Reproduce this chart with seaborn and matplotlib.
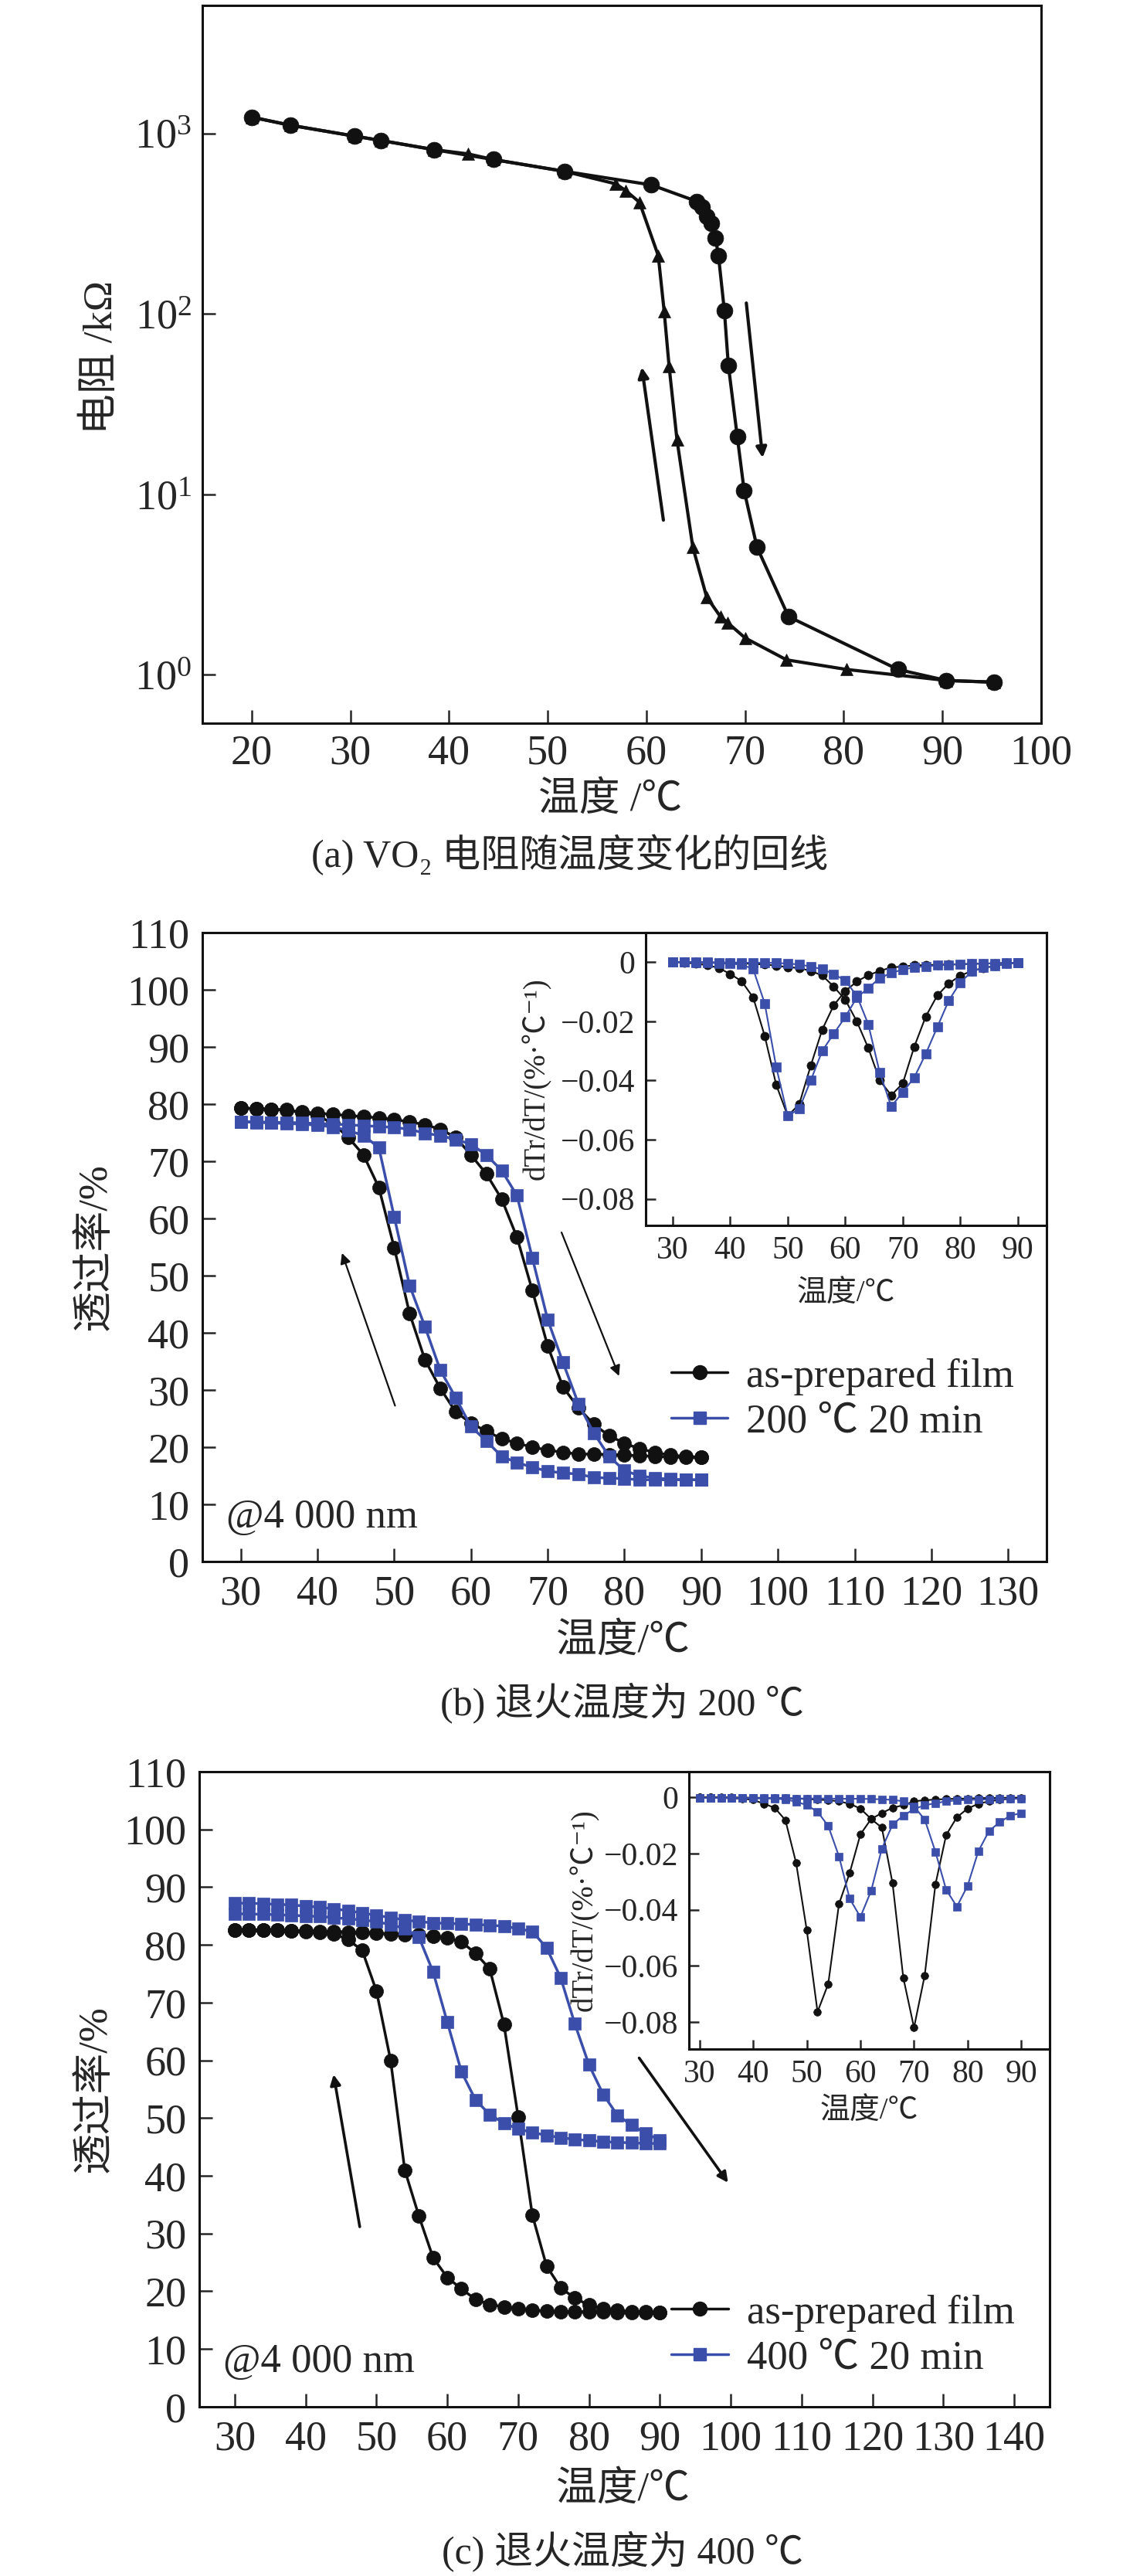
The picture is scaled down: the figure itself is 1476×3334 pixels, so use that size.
import matplotlib
matplotlib.use("Agg")
import matplotlib.pyplot as plt
import pandas as pd
import seaborn as sns
from matplotlib.lines import Line2D
from matplotlib.ticker import LogLocator, NullLocator

# ---------------- data ----------------
# (a) resistance loop
A_HEAT_T = [20, 23.9, 30.4, 33.1, 38.5, 44.5, 51.7, 60.5, 65.1, 65.6, 66.1, 66.6,
            67.0, 67.3, 67.9, 68.3, 69.2, 69.9, 71.2, 74.4, 85.5, 90.4, 95.2]
A_HEAT_R = [1230, 1110, 966, 913, 812, 716, 616, 518, 420, 392, 348, 318,
            263, 210, 104, 52, 21, 10.5, 5.1, 2.1, 1.07, 0.93, 0.91]
A_COOL_T = [95.2, 90.4, 80.3, 74.2, 70.0, 68.2, 67.5, 66.1, 64.7, 63.1, 62.3, 61.8,
            61.2, 59.3, 57.9, 56.9, 51.7, 44.5, 41.9, 38.5, 33.1, 30.4, 23.9, 20]
A_COOL_R = [0.91, 0.93, 1.07, 1.21, 1.6, 1.95, 2.1, 2.7, 5.1, 20, 51, 103,
            210, 415, 482, 525, 616, 716, 770, 812, 913, 966, 1110, 1230]

# temperature grid of the transmittance measurements
TEMPS = [30, 32, 34, 36, 38, 40, 42, 44, 46, 48, 50, 52, 54, 56, 58, 60,
         62, 64, 66, 68, 70, 72, 74, 76, 78, 80, 82, 84, 86, 88, 90]

# (b) annealed at 200 C
B_BLACK_HEAT = [79.3, 79.2, 79.1, 79.0, 78.6, 78.4, 78.2, 78.0, 77.8, 77.6, 77.3, 76.9,
                76.4, 75.6, 74.2, 71.1, 67.8, 63.4, 56.7, 47.4, 37.7, 30.5, 26.9, 24.0,
                22.0, 20.7, 19.7, 19.1, 18.6, 18.4, 18.2]
B_BLACK_COOL = [79.3, 79.2, 79.1, 78.9, 78.5, 78.0, 76.6, 74.2, 71.1, 65.4, 54.9, 43.4,
                35.3, 30.3, 26.2, 24.2, 22.8, 21.5, 20.7, 20.0, 19.5, 19.1, 18.8, 18.8,
                18.7, 18.6, 18.5, 18.4, 18.3, 18.2, 18.2]
B_BLUE_HEAT = [76.9, 76.9, 76.8, 76.8, 76.7, 76.6, 76.5, 76.4, 76.2, 76.1, 75.9, 75.6,
               74.9, 74.5, 73.8, 73.0, 71.1, 68.4, 64.0, 53.1, 42.3, 34.8, 27.6, 22.5,
               18.4, 15.9, 15.0, 14.6, 14.4, 14.3, 14.3]
B_BLUE_COOL = [76.9, 76.8, 76.7, 76.6, 76.5, 76.3, 76.0, 75.4, 74.5, 72.4, 60.3, 48.3,
               41.1, 33.5, 28.7, 23.6, 21.1, 18.4, 17.3, 16.5, 15.8, 15.5, 15.3, 14.7,
               14.6, 14.5, 14.3, 14.3, 14.3, 14.3, 14.3]

IB_BLACK_COOL = [0, -0.0001, -0.0006, -0.001, -0.002, -0.004, -0.0065, -0.012, -0.025,
                 -0.0415, -0.052, -0.048, -0.035, -0.0228, -0.0146, -0.0098, -0.0066,
                 -0.0044, -0.003, -0.0018, -0.0015, -0.0011, -0.001, -0.0009, -0.0008,
                 -0.0007, -0.0006, -0.0005, -0.0004, -0.0003, -0.0002]
IB_BLACK_HEAT = [0, 0, 0, -0.0001, -0.0002, -0.0003, -0.0004, -0.0006, -0.0008, -0.0012,
                 -0.0017, -0.002, -0.003, -0.0045, -0.0083, -0.0127, -0.02, -0.029, -0.04,
                 -0.045, -0.041, -0.0286, -0.0184, -0.0113, -0.0072, -0.0046, -0.003,
                 -0.002, -0.0013, -0.0006, -0.0002]
IB_BLUE_COOL = [0, 0, -0.0001, -0.0002, -0.0004, -0.0006, -0.0008, -0.0024, -0.014,
                -0.0355, -0.052, -0.0496, -0.04, -0.03, -0.0242, -0.0186, -0.012, -0.0088,
                -0.0054, -0.0037, -0.0025, -0.0018, -0.0014, -0.0011, -0.0009, -0.0007,
                -0.0006, -0.0005, -0.0004, -0.0003, -0.0002]
IB_BLUE_HEAT = [0, 0, 0, 0, -0.0001, -0.0001, -0.0002, -0.0002, -0.0002, -0.0003, -0.0005,
                -0.0008, -0.0015, -0.0024, -0.004, -0.0063, -0.0113, -0.021, -0.0374,
                -0.0488, -0.044, -0.039, -0.031, -0.022, -0.013, -0.0069, -0.0032,
                -0.0019, -0.0013, -0.0006, -0.0002]

# (c) annealed at 400 C
C_BLACK_HEAT = [82.6, 82.6, 82.5, 82.5, 82.4, 82.4, 82.3, 82.3, 82.2, 82.1, 82.0, 81.9,
                81.8, 81.7, 81.5, 81.2, 80.5, 78.5, 75.8, 66.2, 50.2, 33.2, 24.4, 20.6,
                18.8, 17.6, 17.0, 16.7, 16.5, 16.4, 16.3]
C_BLACK_COOL = [82.6, 82.6, 82.5, 82.5, 82.4, 82.3, 82.2, 81.9, 80.9, 79.0, 72.0, 60.0,
                41.0, 33.0, 25.8, 22.4, 20.4, 18.6, 17.7, 17.3, 17.0, 16.7, 16.6, 16.5,
                16.5, 16.4, 16.4, 16.3, 16.3, 16.3, 16.3]
C_BLUE_HEAT = [87.2, 87.2, 87.1, 87.0, 86.9, 86.7, 86.5, 86.2, 85.9, 85.5, 85.1, 84.7,
               84.3, 84.0, 83.8, 83.7, 83.6, 83.5, 83.4, 83.2, 82.8, 82.3, 79.5, 74.3,
               66.3, 59.2, 54.1, 50.5, 48.8, 47.3, 46.2]
C_BLUE_COOL = [85.4, 85.3, 85.3, 85.2, 85.1, 85.0, 84.9, 84.7, 84.5, 84.3, 84.0, 83.5,
               82.8, 81.3, 75.3, 66.6, 58.0, 53.1, 50.6, 49.1, 48.1, 47.5, 47.0, 46.6,
               46.3, 46.1, 45.9, 45.8, 45.7, 45.6, 45.6]

IC_BLACK_COOL = [0, 0, -0.0002, -0.0003, -0.0005, -0.0009, -0.0023, -0.0037, -0.0081,
                 -0.0233, -0.0474, -0.0764, -0.0664, -0.038, -0.0269, -0.0132, -0.0077,
                 -0.0056, -0.0037, -0.0028, -0.0014, -0.001, -0.0008, -0.0006, -0.0005,
                 -0.0004, -0.0003, -0.0002, -0.0002, -0.0001, -0.0001]
IC_BLACK_HEAT = [0, 0, 0, 0, -0.0001, -0.0001, -0.0002, -0.0002, -0.0003, -0.0004,
                 -0.0006, -0.0008, -0.001, -0.0014, -0.0023, -0.004, -0.0077, -0.0108,
                 -0.0306, -0.0642, -0.082, -0.0634, -0.031, -0.0134, -0.0071, -0.004,
                 -0.0023, -0.0014, -0.0009, -0.0005, -0.0004]
IC_BLUE_COOL = [-0.0002, -0.0002, -0.0002, -0.0003, -0.0003, -0.0003, -0.0004, -0.0004,
                -0.0008, -0.0015, -0.0028, -0.0051, -0.0102, -0.021, -0.0361, -0.0426,
                -0.0333, -0.0183, -0.0097, -0.0065, -0.0042, -0.0028, -0.0021, -0.0014,
                -0.0011, -0.0009, -0.0008, -0.0007, -0.0006, -0.0005, -0.0005]
IC_BLUE_HEAT = [-0.0002, -0.0002, -0.0002, -0.0002, -0.0003, -0.0003, -0.0003, -0.0003,
                -0.0003, -0.0004, -0.0004, -0.0004, -0.0004, -0.0005, -0.0005, -0.0005,
                -0.0006, -0.0007, -0.0009, -0.0014, -0.0032, -0.0079, -0.0194, -0.0329,
                -0.0389, -0.0315, -0.0192, -0.012, -0.0088, -0.0065, -0.0056]

LEGEND_B = ["as-prepared film", "200 ℃ 20 min"]
LEGEND_C = ["as-prepared film", "400 ℃ 20 min"]
INSET_YTICKS = [0, -0.02, -0.04, -0.06, -0.08]
INSET_YLABELS = ["0", "−0.02", "−0.04", "−0.06", "−0.08"]

BLACK = "#111111"
BLUE = "#3a4eaa"


def loop_frame(t_heat, v_heat, t_cool, v_cool):
    return pd.DataFrame({
        "temp": list(t_heat) + list(t_cool),
        "value": list(v_heat) + list(v_cool),
        "branch": ["heat"] * len(t_heat) + ["cool"] * len(t_cool),
    })


def draw_loop(ax, df, color, marker, ms, lw):
    sns.lineplot(data=df, x="temp", y="value", units="branch", estimator=None,
                 sort=False, color=color, marker=marker, markersize=ms,
                 markeredgecolor=color, markeredgewidth=0.5, linewidth=lw,
                 legend=False, ax=ax)


def style_axes(ax, size, length, pad):
    ax.tick_params(axis="both", which="both", direction="in", length=length,
                   width=1.8, labelsize=size, pad=pad, top=False, right=False)
    for s in ax.spines.values():
        s.set_visible(True)
        s.set_linewidth(2.2)
        s.set_color("#111111")
    ax.set_xlabel("")
    ax.set_ylabel("")


def set_labels(ax, xlabel, xpos, ylabel, ypos, size):
    ax.set_xlabel(xlabel, fontsize=size, va="center", ha="center")
    ax.set_ylabel(ylabel, fontsize=size, va="center", ha="center")
    ax.xaxis.set_label_coords(*xpos)
    ax.yaxis.set_label_coords(*ypos)


sns.set_style("ticks")
plt.rcParams["font.family"] = ["Liberation Serif", "Noto Sans CJK SC", "DejaVu Serif"]
plt.rcParams["mathtext.fontset"] = "stix"
plt.rcParams["axes.unicode_minus"] = True

fig = plt.figure(figsize=(14.76, 33.34), dpi=100)

# ---------------- (a) ----------------
ax_a = fig.add_axes([0.1775, 0.7193, 0.7358, 0.2785])
draw_loop(ax_a, loop_frame(A_HEAT_T, A_HEAT_R, [], []), BLACK, "o", 15, 3)
draw_loop(ax_a, loop_frame([], [], A_COOL_T, A_COOL_R), BLACK, "^", 12, 3)
ax_a.set_yscale("log")
ax_a.set_xlim(15, 100)
ax_a.set_ylim(0.54, 5100)
ax_a.set_xticks(range(20, 101, 10))
ax_a.yaxis.set_major_locator(LogLocator(base=10, numticks=10))
ax_a.yaxis.set_minor_locator(NullLocator())
style_axes(ax_a, 39, 12, 10)
set_labels(ax_a, "温度 /℃", (0.486, -0.107), "电阻 /kΩ", (-0.12, 0.51), 38)
arrow_a = dict(arrowstyle="-|>", lw=3, color=BLACK, mutation_scale=20)
ax_a.annotate("", xy=(59.5, 52), xytext=(61.75, 7.0), arrowprops=arrow_a)
ax_a.annotate("", xy=(71.8, 15.5), xytext=(70.1, 118), arrowprops=arrow_a)
fig.text(0.5, 0.668, "(a) VO₂ 电阻随温度变化的回线", ha="center", va="center", fontsize=36)


def transmittance_panel(rect, inset_rect, black_h, black_c, blue_h, blue_c,
                        ib_c, ib_h, iblue_c, iblue_h, xmax, legend_labels,
                        legend_y, arrows, arrow_lw, xlabel_y, ylabel_x,
                        inset_xlim, inset_ylim, inset_ylabel_x, inset_xlabel_y,
                        ms, ims):
    ax = fig.add_axes(rect)
    draw_loop(ax, loop_frame(TEMPS, black_h, TEMPS, black_c), BLACK, "o", ms, 2.5)
    draw_loop(ax, loop_frame(TEMPS, blue_h, TEMPS, blue_c), BLUE, "s", ms - 1, 2.5)
    ax.set_xlim(25, xmax)
    ax.set_ylim(0, 110)
    ax.set_xticks(range(30, xmax, 10))
    ax.set_yticks(range(0, 111, 10))
    style_axes(ax, 39, 12, 12)
    set_labels(ax, "温度/℃", (0.498, xlabel_y), "透过率/%", (ylabel_x, 0.5), 38)
    ax.text(0.028, 0.07, "@4 000 nm", transform=ax.transAxes, fontsize=38,
            ha="left", va="center")
    handles = [
        Line2D([], [], color=BLACK, marker="o", markersize=ms, lw=2.5),
        Line2D([], [], color=BLUE, marker="s", markersize=ms - 1, lw=2.5),
    ]
    ax.legend(handles, legend_labels, loc="center left",
              bbox_to_anchor=(0.555, legend_y), frameon=False, fontsize=38,
              handlelength=1.4, handletextpad=0.45, labelspacing=0.2,
              borderpad=0, borderaxespad=0)
    for tail, head in arrows:
        ax.annotate("", xy=head, xytext=tail,
                    arrowprops=dict(arrowstyle="-|>", lw=arrow_lw, color=BLACK,
                                    mutation_scale=20))

    ins = fig.add_axes(inset_rect)
    ins.set_facecolor("white")
    draw_loop(ins, loop_frame(TEMPS, ib_c, TEMPS, ib_h), BLACK, "o", ims, 1.5)
    draw_loop(ins, loop_frame(TEMPS, iblue_c, TEMPS, iblue_h), BLUE, "s", ims, 1.5)
    ins.set_xlim(*inset_xlim)
    ins.set_ylim(*inset_ylim)
    ins.set_xticks(range(30, 91, 10))
    ins.set_yticks(INSET_YTICKS, INSET_YLABELS)
    style_axes(ins, 30, 9, 10)
    set_labels(ins, "温度/℃", (0.5, inset_xlabel_y), "dTr/dT/(%·℃⁻¹)",
               (inset_ylabel_x, 0.5), 28)
    return ax


# ---------------- (b) ----------------
transmittance_panel(
    [0.1775, 0.3938, 0.7405, 0.2442], [0.5664, 0.5243, 0.3516, 0.1137],
    B_BLACK_HEAT, B_BLACK_COOL, B_BLUE_HEAT, B_BLUE_COOL,
    IB_BLACK_COOL, IB_BLACK_HEAT, IB_BLUE_COOL, IB_BLUE_HEAT,
    135, LEGEND_B, 0.258,
    [((50.2, 26.9), (43.1, 54.3)), ((71.7, 57.9), (79.4, 32.1))], 1.6,
    -0.1265, -0.127, (25.3, 95), (-0.089, 0.01), -0.272, -0.235, 13, 8)
fig.text(0.546, 0.3386, "(b) 退火温度为 200 ℃", ha="center", va="center", fontsize=36)

# ---------------- (c) ----------------
transmittance_panel(
    [0.1748, 0.0657, 0.7459, 0.2466], [0.6043, 0.2046, 0.3164, 0.1077],
    C_BLACK_HEAT, C_BLACK_COOL, C_BLUE_HEAT, C_BLUE_COOL,
    IC_BLACK_COOL, IC_BLACK_HEAT, IC_BLUE_COOL, IC_BLUE_HEAT,
    145, LEGEND_C, 0.112,
    [((47.7, 30.8), (43.9, 57.9)), ((86.9, 60.7), (99.8, 38.5))], 2.6,
    -0.131, -0.1226, (28, 95.3), (-0.0896, 0.0092), -0.289, -0.226, 13, 7)
fig.text(0.546, 0.0093, "(c) 退火温度为 400 ℃", ha="center", va="center", fontsize=36)

fig.savefig("out.png", dpi=100)
